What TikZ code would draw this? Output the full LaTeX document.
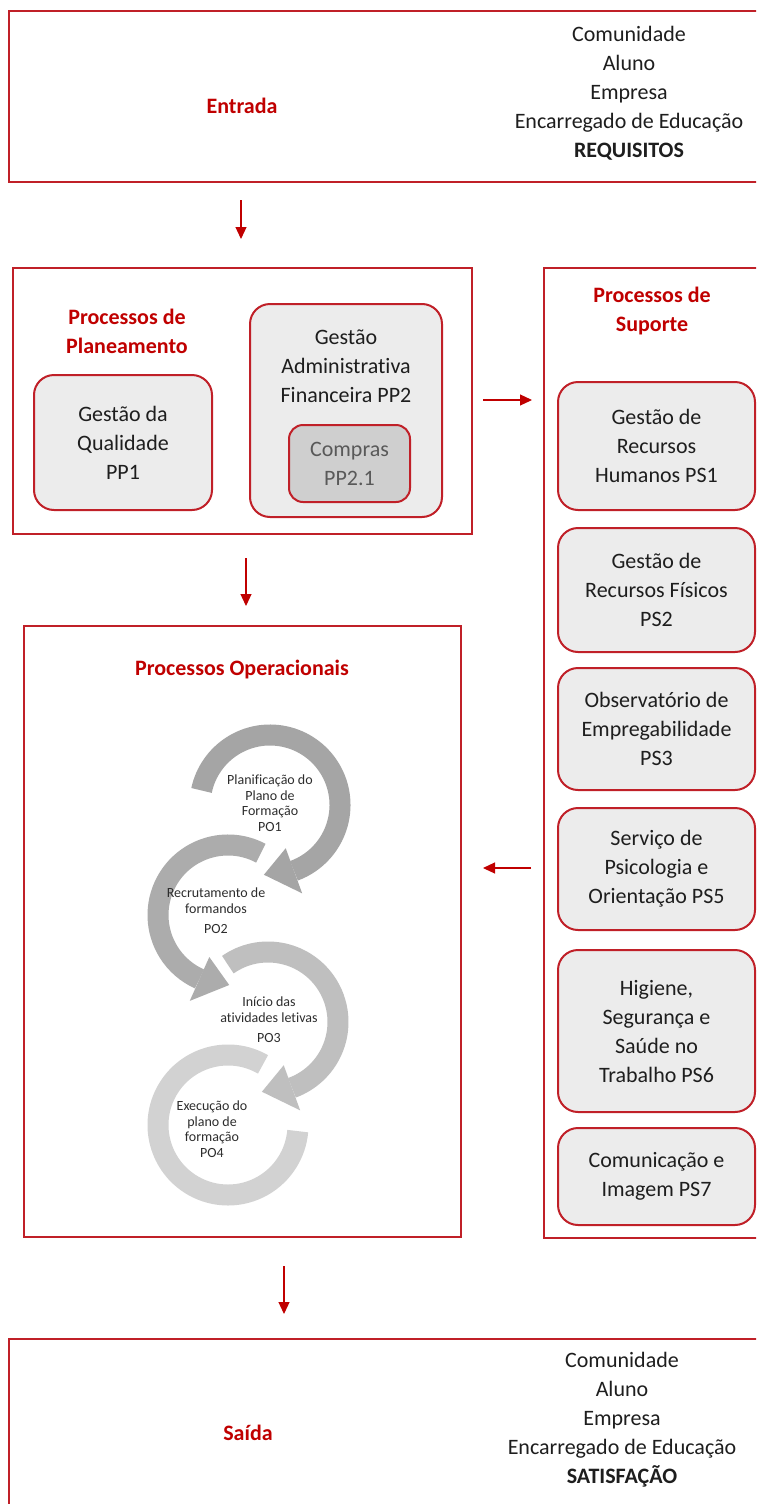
\documentclass[tikz,border=0pt]{standalone}
\usepackage{fontspec}
\setmainfont[Ligatures=NoCommon]{Carlito}
\usetikzlibrary{arrows.meta}
\definecolor{framec}{RGB}{192,32,40}
\definecolor{titlec}{RGB}{192,0,0}
\definecolor{procc}{RGB}{236,236,236}
\definecolor{compc}{RGB}{207,207,207}
\definecolor{comptxt}{RGB}{89,89,89}
\definecolor{txtc}{RGB}{30,30,30}
\definecolor{ringtxtc}{RGB}{45,45,45}
\definecolor{ringa}{RGB}{165,165,165}
\definecolor{ringb}{RGB}{172,172,172}
\definecolor{ringc}{RGB}{191,191,191}
\definecolor{ringd}{RGB}{210,210,210}

\begin{document}
\begin{tikzpicture}[x=1pt, y=1pt,
  every node/.style={align=center, inner sep=0pt, outer sep=0pt, text=txtc, font=\fontsize{22}{29}\selectfont},
  frame/.style={draw=framec, line width=2.4pt},
  proc/.style={draw=framec, line width=2pt, fill=procc, rounded corners=20pt},
  ttl/.style={text=titlec, font=\fontsize{22}{29}\selectfont\bfseries},
  flow/.style={draw=titlec, line width=1.2pt, -{Triangle[width=11pt,length=12pt]}},
  ringtxt/.style={font=\fontsize{14}{15.5}\selectfont, text=ringtxtc}]
\useasboundingbox (0,0) rectangle (756,-1504);
\clip (0,0) rectangle (756,-1504);
\fill[white] (0,0) rectangle (756,-1504);

\draw[frame] (9,-11) rectangle (770,-182);
\draw[frame] (13,-268) rectangle (472,-534);
\draw[frame] (544,-268) rectangle (770,-1238);
\draw[frame] (24,-626) rectangle (461,-1237);
\draw[frame] (9,-1339) rectangle (770,-1520);

\node[ttl] (entrada) at (242,-106) {Entrada};
\node (req) at (629,-93) {Comunidade\\Aluno\\Empresa\\Encarregado de Educação\\\textbf{REQUISITOS}};

\node[ttl] (plan) at (127,-331) {Processos de\\Planeamento};
\node[proc, minimum width=178pt, minimum height=135pt] (pp1) at (123,-442.5) {Gestão da\\Qualidade\\PP1};
\node[proc, minimum width=192pt, minimum height=213pt] (pp2) at (346,-410.5) {};
\node (pp2t) at (346,-366) {Gestão\\Administrativa\\Financeira PP2};
\node[proc, fill=compc, text=comptxt, minimum width=121pt, minimum height=77pt, rounded corners=14pt] (pp21) at (349.5,-463.5) {Compras\\PP2.1};

\node[ttl] (sup) at (652,-311) {Processos de\\Suporte};
\node[proc, minimum width=197pt, minimum height=128pt] (ps1) at (656.5,-446) {Gestão de\\Recursos\\Humanos PS1};
\node[proc, minimum width=197pt, minimum height=124pt] (ps2) at (656.5,-590) {Gestão de\\Recursos Físicos\\PS2};
\node[proc, minimum width=197pt, minimum height=122pt] (ps3) at (656.5,-729) {Observatório de\\Empregabilidade\\PS3};
\node[proc, minimum width=197pt, minimum height=122pt] (ps5) at (656.5,-869) {Serviço de\\Psicologia e\\Orientação PS5};
\node[proc, minimum width=197pt, minimum height=162pt] (ps6) at (656.5,-1031) {Higiene,\\Segurança e\\Saúde no\\Trabalho PS6};
\node[proc, minimum width=197pt, minimum height=97pt] (ps7) at (656.5,-1176.5) {Comunicação e\\Imagem PS7};

\node[ttl] (oper) at (242,-670) {Processos Operacionais};

\begin{scope}[shift={(270,-805)}]
\draw[ringa, line width=21pt] (168:70) arc[start angle=168, end angle=-70, radius=70];
\fill[ringa] (-70:46) -- (-70:94) -- (-95:70) -- cycle;
\end{scope}
\begin{scope}[shift={(228,-915)}]
\draw[ringb, line width=21pt] (62:70) arc[start angle=62, end angle=246, radius=70];
\fill[ringb] (246:46) -- (246:94) -- (271:70) -- cycle;
\end{scope}
\begin{scope}[shift={(268,-1022)}]
\draw[ringc, line width=21pt] (125:70) arc[start angle=125, end angle=-70, radius=70];
\fill[ringc] (-70:46) -- (-70:94) -- (-95:70) -- cycle;
\end{scope}
\begin{scope}[shift={(228,-1125)}]
\draw[ringd, line width=21pt] (60:70) arc[start angle=60, end angle=355, radius=70];
\end{scope}

\node[ringtxt] (po1) at (270,-803) {Planificação do\\Plano de\\Formação\\PO1};
\node[ringtxt] (po2) at (216,-911) {Recrutamento de\\formandos\\[5pt]PO2};
\node[ringtxt] (po3) at (269,-1020) {Início das\\atividades letivas\\[5pt]PO3};
\node[ringtxt] (po4) at (212,-1129) {Execução do\\plano de\\formação\\PO4};

\node[ttl] (saida) at (248,-1433) {Saída};
\node (sat) at (622,-1420) {Comunidade\\Aluno\\Empresa\\Encarregado de Educação\\\textbf{SATISFAÇÃO}};

\coordinate (a1s) at (241,-200);
\coordinate (a1e) at (241,-239);
\coordinate (a2s) at (246,-558);
\coordinate (a2e) at (246,-606);
\coordinate (a3s) at (483,-400);
\coordinate (a3e) at (532,-400);
\coordinate (a4s) at (531,-868);
\coordinate (a4e) at (483,-868);
\coordinate (a5s) at (284,-1266);
\coordinate (a5e) at (284,-1314);
\draw[flow] (a1s) -- (a1e);
\draw[flow] (a2s) -- (a2e);
\draw[flow] (a3s) -- (a3e);
\draw[flow] (a4s) -- (a4e);
\draw[flow] (a5s) -- (a5e);
\end{tikzpicture}
\end{document}
